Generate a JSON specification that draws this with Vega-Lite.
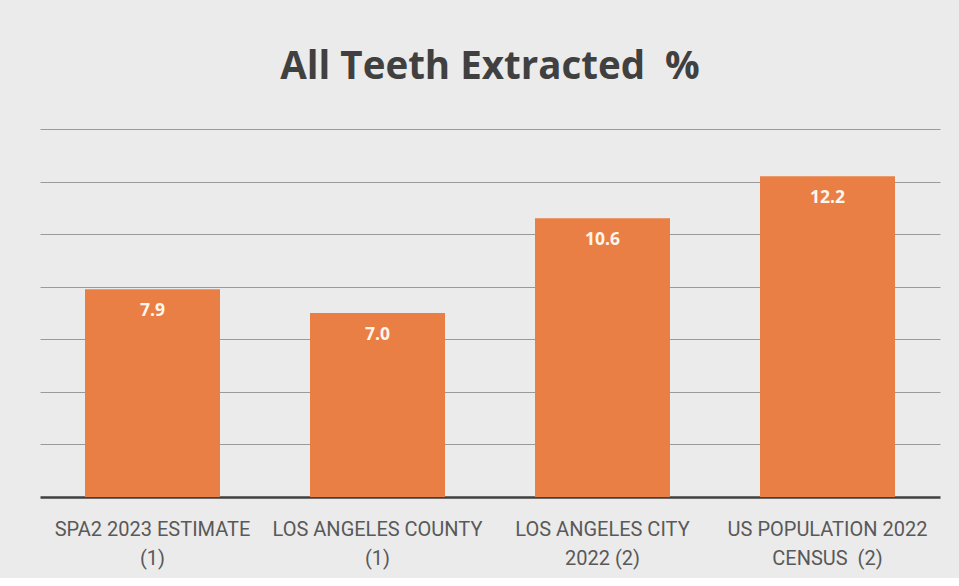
{
  "$schema": "https://vega.github.io/schema/vega-lite/v6.json",
  "width": 900,
  "height": 368,
  "padding": {"left": 40, "right": 19, "top": 47, "bottom": 10},
  "background": "#ebebeb",
  "title": {
    "text": "All Teeth Extracted \u00a0%",
    "font": "Open Sans",
    "fontSize": 38.5,
    "fontWeight": "bold",
    "color": "#404040",
    "anchor": "middle",
    "offset": 42
  },
  "data": {
    "values": [
      {"category": "SPA2 2023 ESTIMATE|(1)", "value": 7.9},
      {"category": "LOS ANGELES COUNTY|(1)", "value": 7.0},
      {"category": "LOS ANGELES CITY|2022 (2)", "value": 10.6},
      {"category": "US POPULATION 2022|CENSUS \u00a0(2)", "value": 12.2}
    ]
  },
  "config": {
    "view": {"stroke": null},
    "axis": {"labelFont": "Roboto"}
  },
  "encoding": {
    "x": {
      "field": "category",
      "type": "nominal",
      "sort": null,
      "scale": {"paddingInner": 0.4, "paddingOuter": 0.2},
      "axis": {
        "title": null,
        "labelAngle": 0,
        "labelExpr": "split(datum.label, '|')",
        "labelFontSize": 20,
        "labelColor": "#595959",
        "labelLineHeight": 29,
        "labelPadding": 22,
        "ticks": false,
        "domainColor": "#404040",
        "domainWidth": 2.5,
        "labelLimit": 300
      }
    },
    "y": {
      "field": "value",
      "type": "quantitative",
      "scale": {"domain": [0, 14]},
      "axis": {
        "title": null,
        "labels": false,
        "ticks": false,
        "domain": false,
        "values": [2, 4, 6, 8, 10, 12, 14],
        "gridColor": "#9a9a9a",
        "gridWidth": 1
      }
    }
  },
  "layer": [
    {"mark": {"type": "bar", "color": "#E97F45"}},
    {
      "mark": {
        "type": "text",
        "baseline": "middle",
        "dy": 22,
        "font": "Open Sans",
        "fontSize": 17.5,
        "fontWeight": "bold",
        "color": "#FFF6EC"
      },
      "encoding": {"text": {"field": "value", "type": "quantitative", "format": ".1f"}}
    }
  ]
}
